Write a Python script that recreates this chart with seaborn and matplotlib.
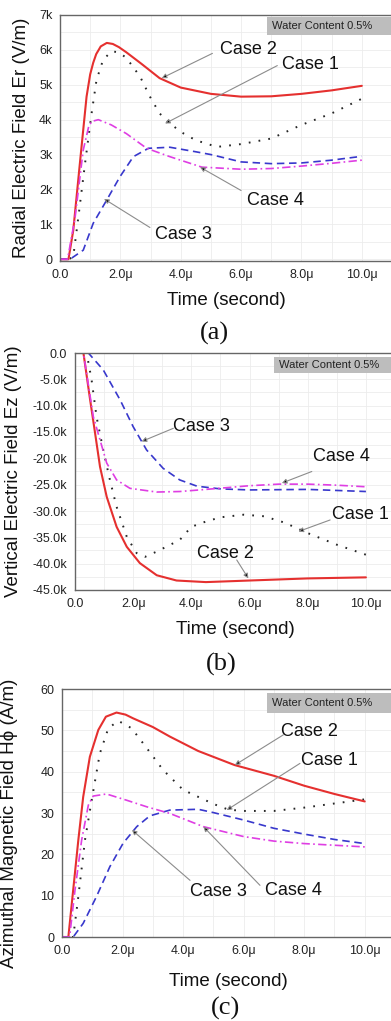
import matplotlib
matplotlib.use('Agg')
import matplotlib.pyplot as plt
import matplotlib.patches as mpatches
from matplotlib.ticker import MultipleLocator, FuncFormatter
import seaborn as sns

# ---- panel (a): radial electric field Er (kV/m) ----
a_t2 = [0, 0.28, 0.44, 0.66, 0.88, 1.0, 1.1, 1.2, 1.35, 1.55, 1.75, 1.95, 2.2, 2.7, 3.3, 4.0, 5.0, 6.0, 7.0, 8.0, 9.0, 10.0]
a_v2 = [0, 0, 0.83, 2.76, 4.66, 5.3, 5.63, 5.88, 6.1, 6.2, 6.17, 6.08, 5.93, 5.6, 5.19, 4.92, 4.74, 4.66, 4.67, 4.74, 4.84, 4.97]
a_t1 = [0, 0.3, 0.44, 0.61, 0.83, 1.05, 1.21, 1.43, 1.71, 1.95, 2.2, 2.65, 2.98, 3.3, 3.58, 4.0, 4.5, 5.2, 6.0, 7.0, 8.0, 9.0, 10.0]
a_v1 = [0, 0, 0.08, 1.22, 2.75, 4.2, 5.14, 5.72, 5.96, 5.93, 5.77, 5.24, 4.66, 4.18, 3.94, 3.65, 3.41, 3.22, 3.3, 3.46, 3.85, 4.18, 4.6]
a_t4 = [0, 0.25, 0.5, 0.77, 0.95, 1.05, 1.27, 1.7, 2.2, 2.87, 3.64, 4.7, 6.0, 7.0, 8.0, 9.0, 10.0]
a_v4 = [0, 0, 1.2, 3.13, 3.8, 3.95, 4.0, 3.85, 3.6, 3.18, 2.94, 2.64, 2.58, 2.6, 2.67, 2.75, 2.84]
a_t3 = [0, 0.33, 0.77, 1.1, 1.55, 1.99, 2.43, 2.93, 3.64, 4.5, 5.0, 6.0, 7.0, 8.0, 9.0, 10.0]
a_v3 = [0, 0, 0.26, 1.03, 1.7, 2.37, 2.94, 3.18, 3.21, 3.08, 3.0, 2.79, 2.74, 2.76, 2.84, 2.95]

# ---- panel (b): vertical electric field Ez (kV/m) ----
b_t2 = [0, 0.29, 0.52, 0.69, 0.86, 1.09, 1.43, 1.78, 2.23, 2.81, 3.49, 4.5, 6.0, 8.0, 10.0]
b_v2 = [0, 0, -8.9, -15.2, -21.6, -27.3, -33, -36.8, -39.9, -42.2, -43.2, -43.5, -43.2, -42.8, -42.6]
b_t4 = [0, 0.29, 0.63, 0.86, 1.09, 1.43, 1.89, 2.81, 3.6, 4.5, 6.0, 7.0, 8.0, 9.0, 10.0]
b_v4 = [0, 0, -12.1, -16.5, -20.9, -24.1, -25.7, -26.4, -26.3, -25.9, -25.2, -24.9, -24.9, -25.1, -25.4]
b_t3 = [0, 0.46, 0.97, 1.55, 2.0, 2.46, 3.03, 3.6, 4.2, 5.0, 6.0, 8.0, 10.0]
b_v3 = [0, 0, -3.2, -8.9, -14, -18.4, -21.9, -24.1, -25.3, -25.8, -26, -25.9, -26.3]
b_t1 = [0, 0.4, 0.57, 0.74, 0.97, 1.2, 1.43, 1.78, 2.12, 2.41, 2.81, 3.6, 4.0, 4.5, 5.0, 5.8, 6.5, 7.2, 8.0, 9.0, 10.0]
b_v1 = [0, 0, -5.1, -12.1, -18.4, -24.1, -29.2, -34.9, -38, -38.7, -37.7, -35.5, -33, -32, -31.2, -30.7, -31, -32.2, -34.2, -36.4, -38.3]

# ---- panel (c): azimuthal magnetic field (A/m) ----
c_t2 = [0, 0.21, 0.37, 0.54, 0.7, 0.92, 1.2, 1.45, 1.8, 2.1, 2.35, 3.0, 3.56, 4.5, 5.7, 7.0, 8.0, 9.0, 10.0]
c_v2 = [0, 0, 11.4, 23.5, 33.9, 43.6, 50.1, 53.3, 54.3, 53.8, 52.9, 50.8, 48.5, 45.0, 41.6, 39.0, 36.6, 34.6, 32.8]
c_t1 = [0, 0.37, 0.54, 0.76, 0.98, 1.25, 1.53, 1.86, 2.3, 2.8, 3.34, 4.0, 5.0, 5.5, 6.0, 7.0, 8.0, 9.0, 10.0]
c_v1 = [0, 0, 9.8, 23.5, 33.1, 44.4, 50.5, 52.3, 50.5, 45.7, 40.4, 35.6, 32.2, 30.8, 30.5, 30.5, 31.3, 32.3, 33.3]
c_t4 = [0, 0.25, 0.43, 0.65, 0.87, 1.03, 1.47, 2.13, 2.8, 3.56, 4.67, 6.0, 7.0, 8.0, 9.0, 10.0]
c_v4 = [0, 0, 11.4, 23.5, 31.9, 34.1, 34.6, 33.1, 31.5, 29.9, 26.7, 24.3, 23.2, 22.6, 22.2, 21.8]
c_t3 = [0, 0.37, 0.7, 1.14, 1.58, 2.02, 2.47, 2.9, 3.56, 4.5, 5.0, 6.0, 7.0, 8.0, 9.0, 10.0]
c_v3 = [0, 0, 3.3, 9.8, 17, 22.7, 26.7, 29.3, 30.7, 30.9, 30.1, 28.3, 26.3, 24.9, 23.6, 22.6]

case_names = ['Case 1', 'Case 2', 'Case 3', 'Case 4']
box_text = 'Water Content 0.5%'
x_label = 'Time (second)'
y_labels = ['Radial Electric Field Er (V/m)',
            'Vertical Electric Field Ez (V/m)',
            'Azimuthal Magnetic Field H\u03d5 (A/m)']
panel_tags = ['(a)', '(b)', '(c)']

sns.set_style('white')
plt.rcParams['font.family'] = ['Liberation Sans', 'DejaVu Sans']

styles = {
    'Case 1': dict(color='#262626', lw=1.4, linestyle=(0, (0.9, 4.2))),
    'Case 2': dict(color='#e5302f', lw=1.5, linestyle='-'),
    'Case 3': dict(color='#3838cc', lw=1.2, linestyle=(0, (4.5, 2.8))),
    'Case 4': dict(color='#df3ee3', lw=1.2, linestyle=(0, (5, 2, 1, 2))),
}

W, H = 391, 1021
fig = plt.figure(figsize=(W / 100, H / 100), dpi=100)


def px_axes(left, top, width, bottom):
    return fig.add_axes([left / W, 1 - bottom / H, width / W, (bottom - top) / H])


ax_a = px_axes(60, 15, 332, 261)
ax_b = px_axes(75, 353, 320, 590)
ax_c = px_axes(62, 689, 333, 937)

series = [
    (ax_a, [(a_t1, a_v1), (a_t2, a_v2), (a_t3, a_v3), (a_t4, a_v4)]),
    (ax_b, [(b_t1, b_v1), (b_t2, b_v2), (b_t3, b_v3), (b_t4, b_v4)]),
    (ax_c, [(c_t1, c_v1), (c_t2, c_v2), (c_t3, c_v3), (c_t4, c_v4)]),
]

for ax, data in series:
    for name, (t, v) in zip(case_names, data):
        sns.lineplot(x=t, y=v, ax=ax, estimator=None, **styles[name])


def time_fmt(v, pos):
    return '0.0' if abs(v) < 1e-9 else f'{v:.1f}\u03bc'


def k_int(v, pos):
    return '0' if abs(v) < 1e-9 else f'{v:.0f}k'


def k_dec(v, pos):
    return '0.0' if abs(v) < 1e-9 else f'{v:.1f}k'


limits = [(-0.05, 7), (-45, 0), (0, 60)]
ymajor = [1, 5, 10]
yminor = [0.5, 2.5, 5]
yfmt = [FuncFormatter(k_int), FuncFormatter(k_dec), None]
label_x = [-0.09, -0.166, -0.132]
label_y = [0.5, 0.5, 0.46]
xlabel_y = [-0.125, -0.13, -0.145]

for i, (ax, _) in enumerate(series):
    ax.set_xlim(0, 11)
    ax.set_ylim(*limits[i])
    ax.xaxis.set_major_locator(MultipleLocator(2))
    ax.xaxis.set_minor_locator(MultipleLocator(1))
    ax.xaxis.set_major_formatter(FuncFormatter(time_fmt))
    ax.yaxis.set_major_locator(MultipleLocator(ymajor[i]))
    ax.yaxis.set_minor_locator(MultipleLocator(yminor[i]))
    if yfmt[i] is not None:
        ax.yaxis.set_major_formatter(yfmt[i])
    ax.grid(True, which='both', color='#ececec', lw=0.6)
    ax.set_axisbelow(True)
    ax.tick_params(which='major', direction='out', length=3.5, width=0.8,
                   color='#555555', labelsize=9, pad=2, labelcolor='#222222')
    ax.tick_params(which='minor', direction='out', length=2, width=0.6, color='#555555')
    for s in ['left', 'bottom', 'top']:
        ax.spines[s].set_color('#666666')
        ax.spines[s].set_linewidth(1.0)
    ax.spines['right'].set_visible(False)
    ax.set_xlabel(x_label, fontsize=13.5, color='#111111')
    ax.set_ylabel(y_labels[i], fontsize=13.5, color='#111111')
    ax.xaxis.set_label_coords(0.5, xlabel_y[i])
    ax.yaxis.set_label_coords(label_x[i], label_y[i])

# "Water Content" box, pixel-positioned
boxes = [(267, 17, 35), (274, 357, 373), (267, 693, 713)]
for (x0, y0, y1) in boxes:
    fig.patches.append(mpatches.Rectangle((x0 / W, 1 - y1 / H), (W - x0) / W, (y1 - y0) / H,
                                          transform=fig.transFigure, fc='#bdbdbd', ec='none', zorder=5))
    fig.text((x0 + 5) / W, 1 - (y0 + y1) / 2 / H, box_text, fontsize=8, color='#222222',
             ha='left', va='center', zorder=6)

# case annotations: (text pos, tail, tip) in data coords
notes = {
    ax_a: [('Case 2', (6.25, 6.0), (5.05, 5.9), (3.37, 5.19)),
           ('Case 1', (8.3, 5.58), (7.2, 5.55), (3.48, 3.89)),
           ('Case 4', (7.15, 1.68), (6.0, 1.97), (4.64, 2.64)),
           ('Case 3', (4.1, 0.72), (2.98, 0.91), (1.46, 1.73))],
    ax_b: [('Case 3', (4.36, -13.9), (3.38, -14.3), (2.29, -16.8)),
           ('Case 4', (9.17, -19.6), (8.14, -22.5), (7.11, -24.7)),
           ('Case 1', (9.8, -30.7), (8.77, -31.7), (7.68, -33.9)),
           ('Case 2', (5.16, -38.0), (5.56, -39.3), (5.96, -42.8))],
    ax_c: [('Case 2', (8.19, 49.7), (7.31, 48.9), (5.71, 41.6)),
           ('Case 1', (8.85, 42.8), (7.86, 42.0), (5.44, 30.7)),
           ('Case 4', (7.64, 11.3), (6.54, 12.5), (4.67, 26.7)),
           ('Case 3', (5.16, 10.9), (4.23, 13.7), (2.31, 25.9))],
}
for ax, items in notes.items():
    for label, tpos, tail, tip in items:
        ax.annotate('', xy=tip, xytext=tail,
                    arrowprops=dict(arrowstyle='-|>', ec='#8c8c8c', fc='black',
                                    lw=0.8, mutation_scale=7, shrinkA=0, shrinkB=0))
        ax.text(tpos[0], tpos[1], label, fontsize=13, ha='center', va='center', color='#111111')

# panel tags
tag_pos = [(214, 333), (221, 664), (226, 1008)]
for tag, (x, y) in zip(panel_tags, tag_pos):
    fig.text(x / W, 1 - y / H, tag, fontsize=19, ha='center', va='center',
             family=['Liberation Serif', 'DejaVu Serif'], color='#111111')

fig.savefig('out.png', dpi=100)
